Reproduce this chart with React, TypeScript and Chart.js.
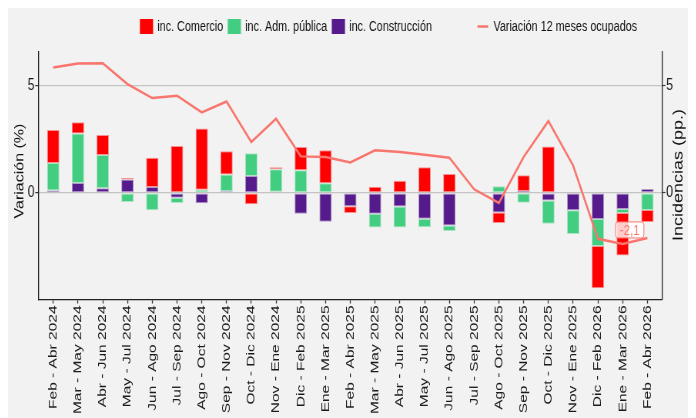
import { useEffect, useRef } from 'react';
import { Chart, registerables } from 'chart.js';

Chart.register(...registerables);

const categories = [
  'Feb - Abr 2024', 'Mar - May 2024', 'Abr - Jun 2024', 'May - Jul 2024', 'Jun - Ago 2024',
  'Jul - Sep 2024', 'Ago - Oct 2024', 'Sep - Nov 2024', 'Oct - Dic 2024', 'Nov - Ene 2024',
  'Dic - Feb 2025', 'Ene - Mar 2025', 'Feb - Abr 2025', 'Mar - May 2025', 'Abr - Jun 2025',
  'May - Jul 2025', 'Jun - Ago 2025', 'Jul - Sep 2025', 'Ago - Oct 2025', 'Sep - Nov 2025',
  'Oct - Dic 2025', 'Nov - Ene 2025', 'Dic - Feb 2026', 'Ene - Mar 2026', 'Feb - Abr 2026',
];

const comercio = [1.53, 0.53, 0.93, 0.07, 1.36, 2.18, 2.84, 1.08, -0.52, 0.09, 1.08, 1.54, -0.31, 0.29, 0.57, 1.2, 0.88, 0, -0.48, 0.73, 2.16, 0.02, -1.97, -1.98, -0.56];
const admPublica = [1.28, 2.3, 1.54, -0.42, -0.8, -0.25, 0.15, 0.78, 1.06, 1.04, 1.06, 0.45, 0.06, -0.63, -0.97, -0.39, -0.26, 0, 0.31, -0.46, -1.08, -1.11, -1.25, -0.19, -0.79];
const construccion = [0.11, 0.46, 0.22, 0.62, 0.28, -0.22, -0.48, 0.08, 0.79, 0.06, -0.96, -1.34, -0.62, -0.97, -0.63, -1.2, -1.51, 0, -0.91, 0.09, -0.35, -0.8, -1.21, -0.74, 0.19];
const ocupados = [5.83, 6.02, 6.03, 5.06, 4.41, 4.52, 3.74, 4.25, 2.37, 3.45, 1.7, 1.67, 1.42, 1.98, 1.9, 1.78, 1.64, 0.17, -0.46, 1.67, 3.34, 1.27, -2.13, -2.37, -2.09];

const seriesNames = ['inc. Comercio', 'inc. Adm. pública', 'inc. Construcción', 'Variación 12 meses ocupados'];
const yTicks = [0, 5];
const yTitleLeft = 'Variación (%)';
const yTitleRight = 'Incidencias (pp.)';
const lastLabel = '-2,1';

const COLORS = {
  comercio: '#FF0000',
  adm: '#43CD80',
  constr: '#551A8B',
  line: '#F8766D',
};
const FONT = '"Liberation Sans", Arial, Helvetica, sans-serif';
const S = 0.77;
const W = 680;
const H = 410;
const LW = Math.round(W / S);
const Y_MIN = -4.95;
const Y_MAX = 6.55;

function hexA(hex: string, a: number) {
  const n = parseInt(hex.slice(1), 16);
  return `rgba(${(n >> 16) & 255},${(n >> 8) & 255},${n & 255},${a})`;
}

const bgPlugin = {
  id: 'bg',
  beforeDraw(chart: any) {
    const ctx = chart.ctx;
    ctx.save();
    ctx.fillStyle = '#F2F2F2';
    ctx.fillRect(0, 0, chart.width, chart.height);
    ctx.restore();
  },
};

const legendPlugin = {
  id: 'customLegend',
  afterDraw(chart: any) {
    const ctx = chart.ctx;
    ctx.save();
    ctx.font = `14px ${FONT}`;
    ctx.textBaseline = 'middle';
    ctx.textAlign = 'left';
    const yTop = 11;
    const bh = 15;
    const bw = 16.9;
    const cy = yTop + bh / 2;
    let x = 171.4;
    const barColors = [COLORS.comercio, COLORS.adm, COLORS.constr];
    for (let i = 0; i < 3; i++) {
      ctx.fillStyle = barColors[i];
      ctx.fillRect(x, yTop, bw, bh);
      ctx.strokeStyle = hexA(barColors[i], 0.4);
      ctx.lineWidth = 1;
      ctx.strokeRect(x + 0.5, yTop + 0.5, bw - 1, bh - 1);
      x += bw + 5.6;
      ctx.fillStyle = '#111';
      ctx.fillText(seriesNames[i], x, cy + 0.5);
      x += ctx.measureText(seriesNames[i]).width + 6;
    }
    x += 59.2 - 6;
    ctx.strokeStyle = COLORS.line;
    ctx.lineWidth = 2.5;
    ctx.beginPath();
    ctx.moveTo(x, cy);
    ctx.lineTo(x + 13.9, cy);
    ctx.stroke();
    x += 13.9 + 6.9;
    ctx.fillStyle = '#111';
    ctx.fillText(seriesNames[3], x, cy + 0.5);

    // axis titles
    ctx.textAlign = 'center';
    ctx.textBaseline = 'middle';
    ctx.fillStyle = '#111';
    ctx.save();
    ctx.font = `16px ${FONT}`;
    ctx.translate(15.5, 163);
    ctx.rotate(-Math.PI / 2);
    ctx.fillText(yTitleLeft, 0, 0);
    ctx.restore();
    ctx.save();
    ctx.font = `18px ${FONT}`;
    ctx.translate(871.4, 167);
    ctx.rotate(-Math.PI / 2);
    ctx.fillText(yTitleRight, 0, 0);
    ctx.restore();
    ctx.restore();
  },
};

const labelPlugin = {
  id: 'lastLabel',
  afterDatasetsDraw(chart: any) {
    const ctx = chart.ctx;
    const xs = chart.scales.x;
    const ys = chart.scales.yR;
    const i = ocupados.length - 1;
    const cx = xs.getPixelForValue(i) - 23;
    const cy = ys.getPixelForValue(ocupados[i]) - 8;
    ctx.save();
    ctx.font = `15px ${FONT}`;
    const tw = ctx.measureText(lastLabel).width;
    const w = tw + 11;
    const h = 16;
    ctx.beginPath();
    (ctx as any).roundRect(cx - w / 2, cy - h / 2, w, h, 3);
    ctx.fillStyle = 'rgba(255,255,255,0.8)';
    ctx.fill();
    ctx.strokeStyle = COLORS.line;
    ctx.lineWidth = 1;
    ctx.stroke();
    ctx.fillStyle = COLORS.line;
    ctx.textAlign = 'center';
    ctx.textBaseline = 'middle';
    ctx.fillText(lastLabel, cx, cy + 0.5);
    ctx.restore();
  },
};

export default function App() {
  const ref = useRef<HTMLCanvasElement | null>(null);

  useEffect(() => {
    if (!ref.current) return;
    const toXY = (arr: number[]) => arr.map((v, i) => ({ x: i, y: v }));
    const barDs = (label: string, data: number[], color: string) => ({
      type: 'bar' as const,
      label,
      data: toXY(data),
      backgroundColor: color,
      borderColor: hexA(color, 0.4),
      borderWidth: 1,
      borderSkipped: false,
      barPercentage: 0.5,
      categoryPercentage: 1,
      xAxisID: 'x',
      yAxisID: 'y',
    });
    const tickFont = { family: FONT, size: 15.5 };
    const chart = new Chart(ref.current, {
      type: 'bar',
      data: {
        datasets: [
          {
            type: 'line' as const,
            label: seriesNames[3],
            data: toXY(ocupados),
            borderColor: COLORS.line,
            backgroundColor: COLORS.line,
            borderWidth: 2.5,
            pointRadius: 0,
            tension: 0,
            xAxisID: 'x',
            yAxisID: 'yR',
          },
          barDs(seriesNames[2], construccion, COLORS.constr),
          barDs(seriesNames[1], admPublica, COLORS.adm),
          barDs(seriesNames[0], comercio, COLORS.comercio),
        ] as any,
      },
      options: {
        responsive: false,
        maintainAspectRatio: false,
        animation: false,
        devicePixelRatio: 1,
        layout: { padding: { top: 44, left: 0, right: 0, bottom: 0 } },
        plugins: {
          legend: { display: false },
          tooltip: { enabled: false },
        },
        scales: {
          x: {
            type: 'linear',
            min: -0.6,
            max: 24.6,
            offset: false,
            stacked: true,
            afterBuildTicks: (axis: any) => {
              axis.ticks = categories.map((_, i) => ({ value: i }));
            },
            afterFit: (s: any) => {
              s.height = H - 291.5;
            },
            ticks: {
              autoSkip: false,
              minRotation: 90,
              maxRotation: 90,
              padding: 2,
              color: '#1a1a1a',
              font: tickFont,
              callback: (v: any) => categories[Math.round(Number(v))] ?? '',
            },
            grid: {
              display: true,
              offset: false,
              drawOnChartArea: false,
              drawTicks: true,
              tickLength: 4,
              tickColor: '#333',
              tickWidth: 1.3,
            },
            border: { display: true, color: '#222', width: 1.3 },
          },
          y: {
            type: 'linear',
            position: 'left',
            stacked: true,
            min: Y_MIN,
            max: Y_MAX,
            afterBuildTicks: (axis: any) => {
              axis.ticks = yTicks.map((v) => ({ value: v }));
            },
            afterFit: (s: any) => {
              s.width = 39.4;
            },
            ticks: { padding: 1, color: '#1a1a1a', font: { family: FONT, size: 16 } },
            grid: {
              color: '#C4C4C4',
              lineWidth: 1.2,
              drawTicks: true,
              tickLength: 4,
              tickColor: '#333',
              tickWidth: 1.2,
            },
            border: { display: true, color: '#222', width: 1.3 },
          },
          yR: {
            type: 'linear',
            position: 'right',
            stacked: false,
            min: Y_MIN,
            max: Y_MAX,
            afterBuildTicks: (axis: any) => {
              axis.ticks = yTicks.map((v) => ({ value: v }));
            },
            afterFit: (s: any) => {
              s.width = LW - 849.7;
            },
            ticks: { padding: 1, color: '#1a1a1a', font: { family: FONT, size: 16 } },
            grid: {
              drawOnChartArea: false,
              drawTicks: true,
              tickLength: 4,
              tickColor: '#333',
              tickWidth: 1.2,
            },
            border: { display: true, color: '#222', width: 1.3 },
          },
        },
      } as any,
      plugins: [bgPlugin, legendPlugin, labelPlugin],
    });
    return () => chart.destroy();
  }, []);

  return (
    <div style={{ width: W, height: H, overflow: 'hidden', background: '#F2F2F2' }}>
      <canvas
        ref={ref}
        width={LW}
        height={H}
        style={{
          display: 'block',
          width: LW + 'px',
          height: H + 'px',
          transform: `scaleX(${S})`,
          transformOrigin: '0 0',
        }}
      />
    </div>
  );
}
